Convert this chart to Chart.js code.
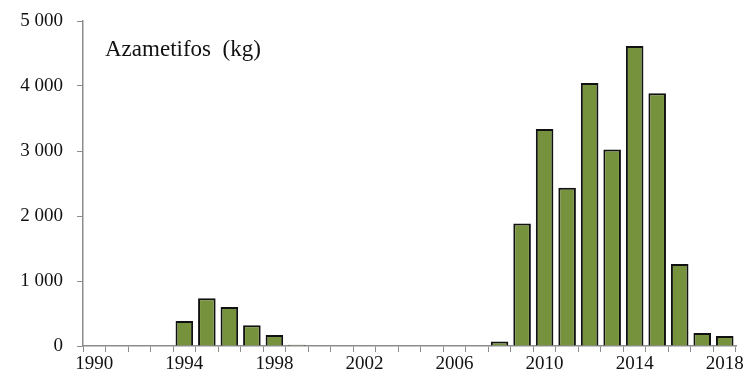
<!DOCTYPE html>
<html>
<head>
<meta charset="utf-8">
<script src="https://cdn.jsdelivr.net/npm/chart.js@4/dist/chart.umd.min.js"></script>
<style>
  body { margin: 0; background: #fff; }
  #wrap { width: 749px; height: 381px; }
</style>
</head>
<body>
<div id="wrap"><canvas id="chart"></canvas></div>
<script>
// years on the x axis
const years = [];
for (let y = 1990; y <= 2018; y++) years.push(String(y));

// azamethiphos use, kg
const amounts = [
  0, 0, 0, 0, 385, 735, 600, 320, 170, 20,
  0, 0, 0, 0, 0, 0, 0, 0, 70, 1885,
  3340, 2435, 4045, 3025, 4615, 3890, 1262, 200, 155
];

const yTicks = [0, 1000, 2000, 3000, 4000, 5000];
const chartTitle = 'Azametifos  (kg)';

const axisGray = '#8c8c8c';
const serif = 'Liberation Serif, Times New Roman, serif';

// title sits inside the plot area
const insideTitle = {
  id: 'insideTitle',
  afterDraw(chart) {
    const ctx = chart.ctx;
    ctx.save();
    ctx.font = '23px ' + serif;
    ctx.fillStyle = '#111';
    ctx.textBaseline = 'middle';
    ctx.fillText(chartTitle, chart.chartArea.left + 22, 50);
    ctx.restore();
  }
};

const ctx = document.getElementById('chart').getContext('2d');
new Chart(ctx, {
  type: 'bar',
  data: {
    labels: years,
    datasets: [{
      data: amounts,
      backgroundColor: '#76923C',
      borderColor: '#111',
      borderWidth: 2,
      barPercentage: 0.78,
      categoryPercentage: 1.0
    }]
  },
  options: {
    responsive: true,
    maintainAspectRatio: false,
    animation: false,
    layout: { padding: { top: 21, right: 13, left: 0, bottom: 0 } },
    plugins: {
      legend: { display: false },
      tooltip: { enabled: false }
    },
    scales: {
      x: {
        grid: {
          offset: true,
          drawOnChartArea: false,
          drawTicks: true,
          tickLength: 6,
          color: axisGray
        },
        border: { color: axisGray, width: 1.5 },
        ticks: {
          autoSkip: false,
          maxRotation: 0,
          padding: 1,
          color: '#111',
          font: { family: serif, size: 19 },
          callback: (v, i) => (i % 4 === 0 ? years[i] : '')
        },
        afterFit: (scale) => {
          scale.height = 35;
          scale.paddingLeft = 0;
          scale.paddingRight = 0;
        }
      },
      y: {
        min: 0,
        max: 5000,
        afterBuildTicks: (scale) => { scale.ticks = yTicks.map(v => ({ value: v })); },
        grid: {
          drawOnChartArea: false,
          drawTicks: true,
          tickLength: 6,
          color: axisGray
        },
        border: { color: axisGray, width: 1.5 },
        ticks: {
          padding: 14,
          color: '#111',
          font: { family: serif, size: 19 },
          callback: (v) => v === 0 ? '0' : String(v).replace(/\B(?=(\d{3})+(?!\d))/g, ' ')
        },
        afterFit: (scale) => {
          scale.width = 83;
          scale.paddingTop = 0;
          scale.paddingBottom = 0;
        }
      }
    }
  },
  plugins: [insideTitle]
});
</script>
</body>
</html>
